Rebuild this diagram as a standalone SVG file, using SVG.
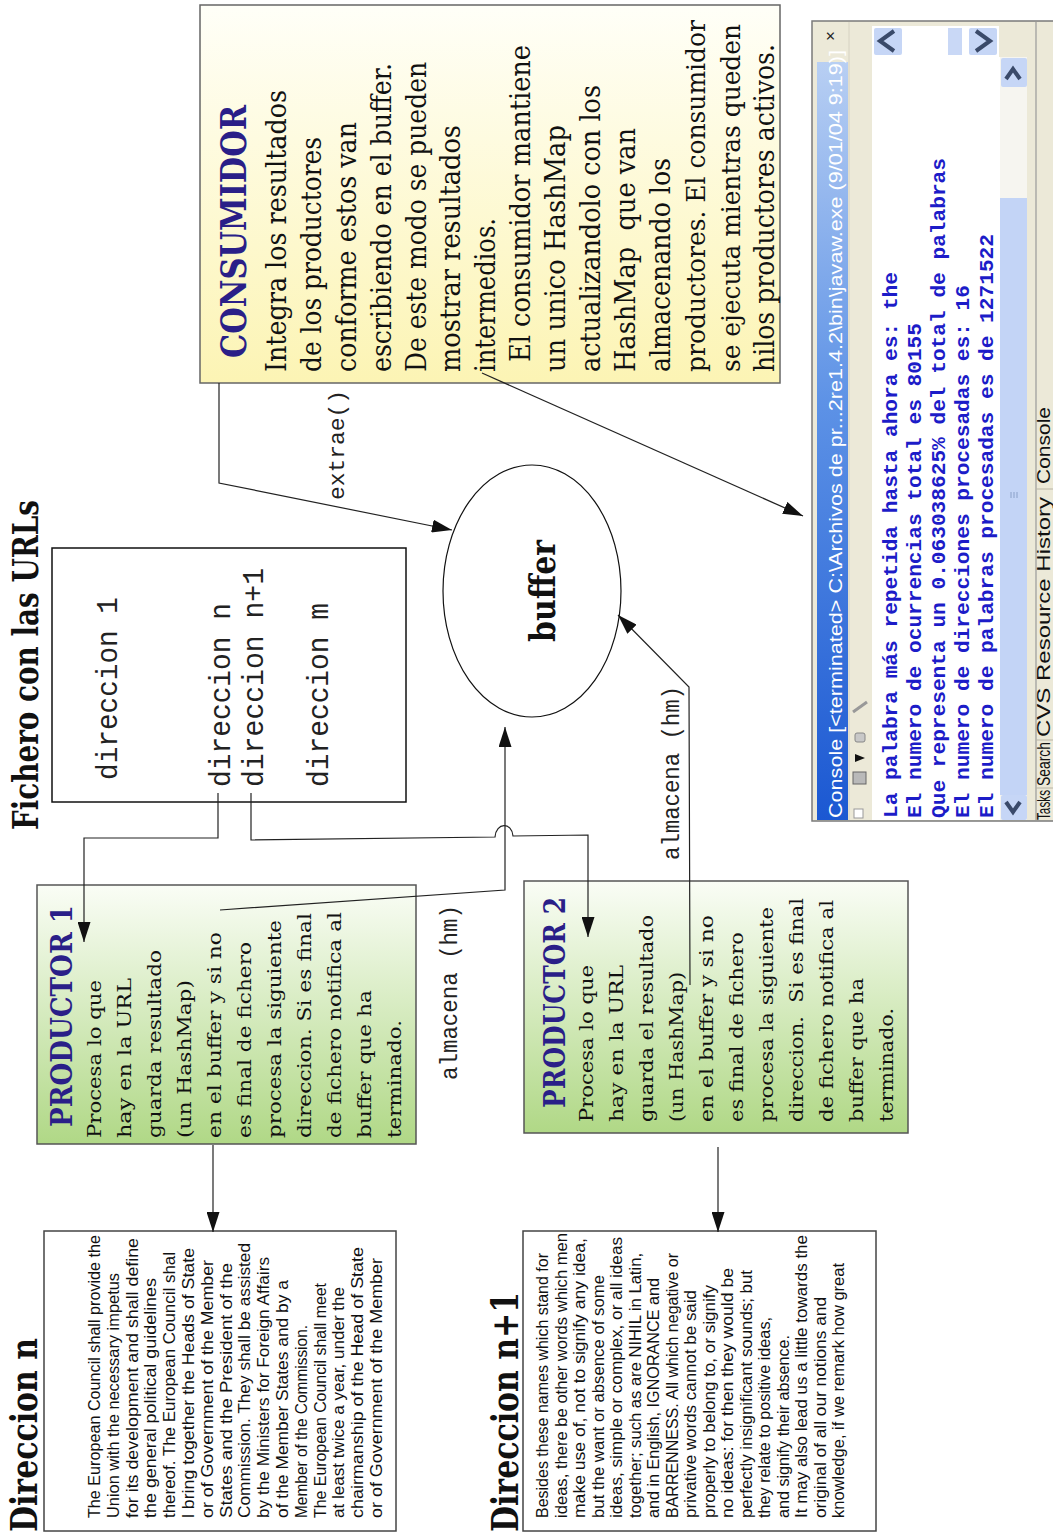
<svg xmlns="http://www.w3.org/2000/svg" width="1053" height="1534" viewBox="0 0 1053 1534">
<defs>
<style>
.ser{font-family:"DejaVu Serif","Liberation Serif",serif;fill:#111}
.c{font-size:28px}
.c2{font-size:25.5px}
.p{font-size:19px}
.ttl{font-family:"DejaVu Serif","Liberation Serif",serif;font-weight:bold;fill:#111}
.blue{fill:#2a1f88}
.mono{font-family:"Liberation Mono","DejaVu Sans Mono",monospace;fill:#222}
.sans{font-family:"Liberation Sans",Arial,sans-serif;font-size:16px;fill:#111}
.con{font-family:"Liberation Mono","DejaVu Sans Mono",monospace;font-weight:bold;font-size:21px;fill:#1c1cc8}
.tab{font-family:"Liberation Sans",Arial,sans-serif;font-size:18px;fill:#111}
.conn{fill:none;stroke:#222;stroke-width:1.2}
.pre{white-space:pre}
</style>
<linearGradient id="gY" x1="0" y1="0" x2="0" y2="1"><stop offset="0" stop-color="#fffff8"/><stop offset="1" stop-color="#fcf4b4"/></linearGradient>
<linearGradient id="gG" x1="0" y1="0" x2="0" y2="1"><stop offset="0" stop-color="#fafdf6"/><stop offset="1" stop-color="#b0d886"/></linearGradient>
<linearGradient id="gT" x1="0" y1="0" x2="0" y2="1"><stop offset="0" stop-color="#b8cff3"/><stop offset="0.45" stop-color="#5d92e6"/><stop offset="1" stop-color="#1b58d2"/></linearGradient>
<marker id="ah" markerUnits="userSpaceOnUse" markerWidth="20" markerHeight="13" refX="20" refY="6.5" orient="auto"><path d="M0,0 L20,6.5 L0,13 Z" fill="#111"/></marker>
</defs>
<rect x="0" y="0" width="1053" height="1534" fill="#fff"/>

<g id="title">
<text class="ttl" font-size="36" transform="translate(38,830) rotate(-90)" textLength="330" lengthAdjust="spacingAndGlyphs">Fichero con las URLs</text>
</g>

<g id="fichero">
<rect x="52" y="548" width="354" height="254" fill="#fff" stroke="#111" stroke-width="1.5"/>
<text class="mono" font-size="30" transform="translate(117,780) rotate(-90)" textLength="183" lengthAdjust="spacingAndGlyphs">direccion 1</text>
<text class="mono" font-size="30" transform="translate(230,787) rotate(-90)" textLength="184" lengthAdjust="spacingAndGlyphs">direccion n</text>
<text class="mono" font-size="30" transform="translate(263,787) rotate(-90)" textLength="219" lengthAdjust="spacingAndGlyphs">direccion n+1</text>
<text class="mono" font-size="30" transform="translate(328,787) rotate(-90)" textLength="184" lengthAdjust="spacingAndGlyphs">direccion m</text>
</g>

<g id="consumidor">
<rect x="200" y="5" width="580" height="378" fill="url(#gY)" stroke="#666" stroke-width="1.5"/>
<text class="ttl blue" font-size="36" transform="translate(246,358) rotate(-90)" textLength="253" lengthAdjust="spacingAndGlyphs">CONSUMIDOR</text>
<text class="ser c" transform="translate(286,372) rotate(-90)" textLength="282" lengthAdjust="spacingAndGlyphs">Integra los resultados</text>
<text class="ser c" transform="translate(321,372) rotate(-90)" textLength="235" lengthAdjust="spacingAndGlyphs">de los productores</text>
<text class="ser c" transform="translate(356,372) rotate(-90)" textLength="250" lengthAdjust="spacingAndGlyphs">conforme estos van</text>
<text class="ser c" transform="translate(391,372) rotate(-90)" textLength="309" lengthAdjust="spacingAndGlyphs">escribiendo en el buffer.</text>
<text class="ser c" transform="translate(426,372) rotate(-90)" textLength="310" lengthAdjust="spacingAndGlyphs">De este modo se pueden</text>
<text class="ser c" transform="translate(460,372) rotate(-90)" textLength="247" lengthAdjust="spacingAndGlyphs">mostrar resultados</text>
<text class="ser c" transform="translate(495,372) rotate(-90)" textLength="154" lengthAdjust="spacingAndGlyphs">intermedios.</text>
<text class="ser c" transform="translate(530,362) rotate(-90)" textLength="317" lengthAdjust="spacingAndGlyphs">El consumidor mantiene</text>
<text class="ser c" transform="translate(565,372) rotate(-90)" textLength="247" lengthAdjust="spacingAndGlyphs">un unico HashMap</text>
<text class="ser c" transform="translate(600,372) rotate(-90)" textLength="287" lengthAdjust="spacingAndGlyphs">actualizandolo con los</text>
<text class="ser c pre" transform="translate(635,372) rotate(-90)" textLength="244" lengthAdjust="spacingAndGlyphs">HashMap  que van</text>
<text class="ser c" transform="translate(670,372) rotate(-90)" textLength="214" lengthAdjust="spacingAndGlyphs">almacenando los</text>
<text class="ser c2" transform="translate(705,372) rotate(-90)" textLength="352" lengthAdjust="spacingAndGlyphs">productores. El consumidor</text>
<text class="ser c2" transform="translate(740,372) rotate(-90)" textLength="348" lengthAdjust="spacingAndGlyphs">se ejecuta mientras queden</text>
<text class="ser c" transform="translate(774,372) rotate(-90)" textLength="328" lengthAdjust="spacingAndGlyphs">hilos productores activos.</text>
</g>

<g id="buffer">
<ellipse cx="532" cy="591" rx="89" ry="126" fill="#fff" stroke="#111" stroke-width="1.2"/>
<text class="ttl" font-size="36" transform="translate(555,642) rotate(-90)" textLength="102" lengthAdjust="spacingAndGlyphs">buffer</text>
</g>

<g id="productor1">
<rect x="37" y="885" width="379" height="259" fill="url(#gG)" stroke="#555" stroke-width="1.5"/>
<text class="ttl blue" font-size="30" transform="translate(72,1127) rotate(-90)" textLength="222" lengthAdjust="spacingAndGlyphs">PRODUCTOR 1</text>
<text class="ser p" transform="translate(101,1138) rotate(-90)" textLength="158" lengthAdjust="spacingAndGlyphs">Procesa lo que</text>
<text class="ser p" transform="translate(131,1138) rotate(-90)" textLength="160" lengthAdjust="spacingAndGlyphs">hay en la URL</text>
<text class="ser p" transform="translate(161,1138) rotate(-90)" textLength="188" lengthAdjust="spacingAndGlyphs">guarda resultado</text>
<text class="ser p" transform="translate(191,1138) rotate(-90)" textLength="158" lengthAdjust="spacingAndGlyphs">(un HashMap)</text>
<text class="ser p" transform="translate(221,1138) rotate(-90)" textLength="206" lengthAdjust="spacingAndGlyphs">en el buffer y si no</text>
<text class="ser p" transform="translate(251,1138) rotate(-90)" textLength="196" lengthAdjust="spacingAndGlyphs">es final de fichero</text>
<text class="ser p" transform="translate(281,1138) rotate(-90)" textLength="218" lengthAdjust="spacingAndGlyphs">procesa la siguiente</text>
<text class="ser p" transform="translate(311,1138) rotate(-90)" textLength="225" lengthAdjust="spacingAndGlyphs">direccion. Si es final</text>
<text class="ser p" transform="translate(341,1138) rotate(-90)" textLength="226" lengthAdjust="spacingAndGlyphs">de fichero notifica al</text>
<text class="ser p" transform="translate(371,1138) rotate(-90)" textLength="148" lengthAdjust="spacingAndGlyphs">buffer que ha</text>
<text class="ser p" transform="translate(401,1138) rotate(-90)" textLength="118" lengthAdjust="spacingAndGlyphs">terminado.</text>
</g>

<g id="productor2">
<rect x="524" y="881" width="384" height="252" fill="url(#gG)" stroke="#555" stroke-width="1.5"/>
<text class="ttl blue" font-size="29" transform="translate(565,1108) rotate(-90)" textLength="211" lengthAdjust="spacingAndGlyphs">PRODUCTOR 2</text>
<text class="ser p" transform="translate(593,1122) rotate(-90)" textLength="157" lengthAdjust="spacingAndGlyphs">Procesa lo que</text>
<text class="ser p" transform="translate(623,1122) rotate(-90)" textLength="157" lengthAdjust="spacingAndGlyphs">hay en la URL</text>
<text class="ser p" transform="translate(653,1122) rotate(-90)" textLength="207" lengthAdjust="spacingAndGlyphs">guarda el resultado</text>
<text class="ser p" transform="translate(683,1122) rotate(-90)" textLength="150" lengthAdjust="spacingAndGlyphs">(un HashMap)</text>
<text class="ser p" transform="translate(713,1122) rotate(-90)" textLength="207" lengthAdjust="spacingAndGlyphs">en el buffer y si no</text>
<text class="ser p" transform="translate(743,1122) rotate(-90)" textLength="190" lengthAdjust="spacingAndGlyphs">es final de fichero</text>
<text class="ser p" transform="translate(773,1122) rotate(-90)" textLength="215" lengthAdjust="spacingAndGlyphs">procesa la siguiente</text>
<text class="ser p pre" transform="translate(803,1122) rotate(-90)" textLength="224" lengthAdjust="spacingAndGlyphs">direccion.  Si es final</text>
<text class="ser p" transform="translate(833,1122) rotate(-90)" textLength="222" lengthAdjust="spacingAndGlyphs">de fichero notifica al</text>
<text class="ser p" transform="translate(863,1122) rotate(-90)" textLength="144" lengthAdjust="spacingAndGlyphs">buffer que ha</text>
<text class="ser p" transform="translate(893,1122) rotate(-90)" textLength="114" lengthAdjust="spacingAndGlyphs">terminado.</text>
</g>

<g id="direccion-n">
<text class="ttl" font-size="37" transform="translate(37,1532) rotate(-90)" textLength="194" lengthAdjust="spacingAndGlyphs">Direccion n</text>
<rect x="44" y="1231" width="352" height="300" fill="#fff" stroke="#444" stroke-width="1.5"/>
<text class="sans" transform="translate(100,1518) rotate(-90)" textLength="283" lengthAdjust="spacingAndGlyphs">The European Council shall provide the</text>
<text class="sans" transform="translate(118.8,1518) rotate(-90)" textLength="245" lengthAdjust="spacingAndGlyphs">Union with the necessary impetus</text>
<text class="sans" transform="translate(137.6,1518) rotate(-90)" textLength="280" lengthAdjust="spacingAndGlyphs">for its development and shall define</text>
<text class="sans" transform="translate(156.4,1518) rotate(-90)" textLength="240" lengthAdjust="spacingAndGlyphs">the general political guidelines</text>
<text class="sans" transform="translate(175.2,1518) rotate(-90)" textLength="266" lengthAdjust="spacingAndGlyphs">thereof. The European Council shal</text>
<text class="sans" transform="translate(194,1518) rotate(-90)" textLength="270" lengthAdjust="spacingAndGlyphs">l bring together the Heads of State</text>
<text class="sans" transform="translate(212.8,1518) rotate(-90)" textLength="258" lengthAdjust="spacingAndGlyphs">or of Government of the Member</text>
<text class="sans" transform="translate(231.6,1518) rotate(-90)" textLength="255" lengthAdjust="spacingAndGlyphs">States and the President of the</text>
<text class="sans" transform="translate(250.4,1518) rotate(-90)" textLength="275" lengthAdjust="spacingAndGlyphs">Commission. They shall be assisted</text>
<text class="sans" transform="translate(269.2,1518) rotate(-90)" textLength="261" lengthAdjust="spacingAndGlyphs">by the Ministers for Foreign Affairs</text>
<text class="sans" transform="translate(288,1518) rotate(-90)" textLength="238" lengthAdjust="spacingAndGlyphs">of the Member States and by a</text>
<text class="sans" transform="translate(306.8,1518) rotate(-90)" textLength="193" lengthAdjust="spacingAndGlyphs">Member of the Commission.</text>
<text class="sans" transform="translate(325.6,1518) rotate(-90)" textLength="235" lengthAdjust="spacingAndGlyphs">The European Council shall meet</text>
<text class="sans" transform="translate(344.4,1518) rotate(-90)" textLength="231" lengthAdjust="spacingAndGlyphs">at least twice a year, under the</text>
<text class="sans" transform="translate(363.2,1518) rotate(-90)" textLength="271" lengthAdjust="spacingAndGlyphs">chairmanship of the Head of State</text>
<text class="sans" transform="translate(382,1518) rotate(-90)" textLength="260" lengthAdjust="spacingAndGlyphs">or of Government of the Member</text>
</g>

<g id="direccion-n1">
<text class="ttl" font-size="37" transform="translate(518,1532) rotate(-90)" textLength="240" lengthAdjust="spacingAndGlyphs">Direccion n+1</text>
<rect x="523" y="1231" width="353" height="300" fill="#fff" stroke="#444" stroke-width="1.5"/>
<text class="sans" transform="translate(548,1518) rotate(-90)" textLength="265" lengthAdjust="spacingAndGlyphs">Besides these names which stand for</text>
<text class="sans" transform="translate(566.5,1518) rotate(-90)" textLength="285" lengthAdjust="spacingAndGlyphs">ideas, there be other words which men</text>
<text class="sans" transform="translate(585,1518) rotate(-90)" textLength="280" lengthAdjust="spacingAndGlyphs">make use of, not to signify any idea,</text>
<text class="sans" transform="translate(603.5,1518) rotate(-90)" textLength="243" lengthAdjust="spacingAndGlyphs">but the want or absence of some</text>
<text class="sans" transform="translate(622,1518) rotate(-90)" textLength="281" lengthAdjust="spacingAndGlyphs">ideas, simple or complex, or all ideas</text>
<text class="sans" transform="translate(640.5,1518) rotate(-90)" textLength="265" lengthAdjust="spacingAndGlyphs">together; such as are NIHIL in Latin,</text>
<text class="sans" transform="translate(659,1518) rotate(-90)" textLength="240" lengthAdjust="spacingAndGlyphs">and in English, IGNORANCE and</text>
<text class="sans" transform="translate(677.5,1518) rotate(-90)" textLength="265" lengthAdjust="spacingAndGlyphs">BARRENNESS. All which negative or</text>
<text class="sans" transform="translate(696,1518) rotate(-90)" textLength="228" lengthAdjust="spacingAndGlyphs">privative words cannot be said</text>
<text class="sans" transform="translate(714.5,1518) rotate(-90)" textLength="233" lengthAdjust="spacingAndGlyphs">properly to belong to, or signify</text>
<text class="sans" transform="translate(733,1518) rotate(-90)" textLength="250" lengthAdjust="spacingAndGlyphs">no ideas: for then they would be</text>
<text class="sans" transform="translate(751.5,1518) rotate(-90)" textLength="248" lengthAdjust="spacingAndGlyphs">perfectly insignificant sounds; but</text>
<text class="sans" transform="translate(770,1518) rotate(-90)" textLength="201" lengthAdjust="spacingAndGlyphs">they relate to positive ideas,</text>
<text class="sans" transform="translate(788.5,1518) rotate(-90)" textLength="183" lengthAdjust="spacingAndGlyphs">and signify their absence.</text>
<text class="sans" transform="translate(807,1518) rotate(-90)" textLength="283" lengthAdjust="spacingAndGlyphs">It may also lead us a little towards the</text>
<text class="sans" transform="translate(825.5,1518) rotate(-90)" textLength="221" lengthAdjust="spacingAndGlyphs">original of all our notions and</text>
<text class="sans" transform="translate(844,1518) rotate(-90)" textLength="255" lengthAdjust="spacingAndGlyphs">knowledge, if we remark how great</text>
</g>

<g id="console">
<rect x="812" y="21" width="245" height="800" fill="#ece9d8" stroke="#7a7a7a" stroke-width="1.5"/>
<rect x="817" y="62" width="31" height="758" fill="url(#gT)"/>
<text font-family="Liberation Sans,Arial,sans-serif" font-size="19" fill="#fff" transform="translate(842,818) rotate(-90)" textLength="768" lengthAdjust="spacingAndGlyphs">Console [&lt;terminated&gt; C:\Archivos de pr...2re1.4.2\bin\javaw.exe (9/01/04 9:19)]</text>
<text font-family="Liberation Sans,Arial,sans-serif" font-size="17" fill="#222" text-anchor="middle" transform="translate(836,36) rotate(-90)">×</text>
<line x1="849" y1="22" x2="849" y2="820" stroke="#d6d2c2" stroke-width="1"/>
<rect x="854" y="809" width="9" height="9" fill="#fff" stroke="#999" stroke-width="1"/>
<rect x="853" y="772" width="13" height="12" fill="#b9b9b9" stroke="#666" stroke-width="1"/>
<path d="M855,762 L865,758 L855,754 Z" fill="#111"/>
<rect x="855" y="733" width="10" height="9" rx="2" fill="#c8c8c8" stroke="#888" stroke-width="1"/>
<line x1="853" y1="712" x2="867" y2="702" stroke="#999" stroke-width="3"/>
<rect x="872" y="57" width="128" height="763" fill="#fff"/>
<rect x="872" y="26" width="127" height="31" fill="#fff"/>
<rect x="874" y="28" width="28" height="27" rx="2" fill="#c6d6f6"/>
<rect x="948" y="28" width="14" height="27" fill="#c9d8f6"/>
<rect x="969" y="28" width="28" height="27" rx="2" fill="#c6d6f6"/>
<polyline points="894,31 880,41 894,51" fill="none" stroke="#3a4a6a" stroke-width="4"/>
<polyline points="976,31 990,41 976,51" fill="none" stroke="#3a4a6a" stroke-width="4"/>
<rect x="1000" y="57" width="27" height="763" fill="#f6f5f0"/>
<rect x="1000" y="198" width="27" height="597" fill="#c3d4f6"/>
<rect x="1001" y="58" width="26" height="29" rx="2" fill="#c6d6f6"/>
<polyline points="1006,79 1013,69 1020,79" fill="none" stroke="#3a4a6a" stroke-width="4"/>
<rect x="1001" y="795" width="26" height="25" rx="2" fill="#c6d6f6"/>
<polyline points="1006,802 1013,812 1020,802" fill="none" stroke="#3a4a6a" stroke-width="4"/>
<path d="M1011,492 V498 M1014,492 V498 M1017,492 V498" stroke="#8aa0c8" stroke-width="1"/>
<text class="con" transform="translate(897,818) rotate(-90)" textLength="546" lengthAdjust="spacingAndGlyphs">La palabra más repetida hasta ahora es: the</text>
<text class="con" transform="translate(921,818) rotate(-90)" textLength="495" lengthAdjust="spacingAndGlyphs">El numero de ocurrencias total es 80155</text>
<text class="con" transform="translate(945,818) rotate(-90)" textLength="660" lengthAdjust="spacingAndGlyphs">Que representa un 0.063038625% del total de palabras</text>
<text class="con" transform="translate(969,818) rotate(-90)" textLength="533" lengthAdjust="spacingAndGlyphs">El numero de direcciones procesadas es: 16</text>
<text class="con" transform="translate(993,818) rotate(-90)" textLength="584" lengthAdjust="spacingAndGlyphs">El numero de palabras procesadas es de 1271522</text>
<line x1="1036" y1="22" x2="1036" y2="820" stroke="#9a9a9a" stroke-width="1.2"/>
<path d="M1036,788 H1053 M1036,740 H1053 M1036,489 H1053" stroke="#b8b4a4" stroke-width="1"/>
<text class="tab" transform="translate(1050,820) rotate(-90)" textLength="30" lengthAdjust="spacingAndGlyphs">Tasks</text>
<text class="tab" transform="translate(1050,786) rotate(-90)" textLength="44" lengthAdjust="spacingAndGlyphs">Search</text>
<text class="tab" transform="translate(1050,737) rotate(-90)" textLength="240" lengthAdjust="spacingAndGlyphs">CVS Resource History</text>
<text class="tab" transform="translate(1050,484) rotate(-90)" textLength="77" lengthAdjust="spacingAndGlyphs">Console</text>
</g>

<g id="connectors">
<path class="conn" d="M219,383 L219,483 L452,530" marker-end="url(#ah)"/>
<path class="conn" d="M482,373 L803,516" marker-end="url(#ah)"/>
<path class="conn" d="M218,793 L218,838 L84,838 L84,942" marker-end="url(#ah)"/>
<path class="conn" d="M251,793 L251,840 L495,837 C496,822 512,822 513,836 L588,835 L588,937" marker-end="url(#ah)"/>
<path class="conn" d="M220,910 L505,890 L505,727" marker-end="url(#ah)"/>
<path class="conn" d="M690,985 L689,687 L618,615" marker-end="url(#ah)"/>
<path class="conn" d="M213,1145 L213,1232" marker-end="url(#ah)"/>
<path class="conn" d="M718,1147 L718,1232" marker-end="url(#ah)"/>
<text class="mono" font-size="22" transform="translate(344,500) rotate(-90)" textLength="110" lengthAdjust="spacingAndGlyphs">extrae()</text>
<text class="mono" font-size="24" transform="translate(457,1080) rotate(-90)" textLength="175" lengthAdjust="spacingAndGlyphs">almacena (hm)</text>
<text class="mono" font-size="24" transform="translate(679,860) rotate(-90)" textLength="174" lengthAdjust="spacingAndGlyphs">almacena (hm)</text>
</g>
</svg>
